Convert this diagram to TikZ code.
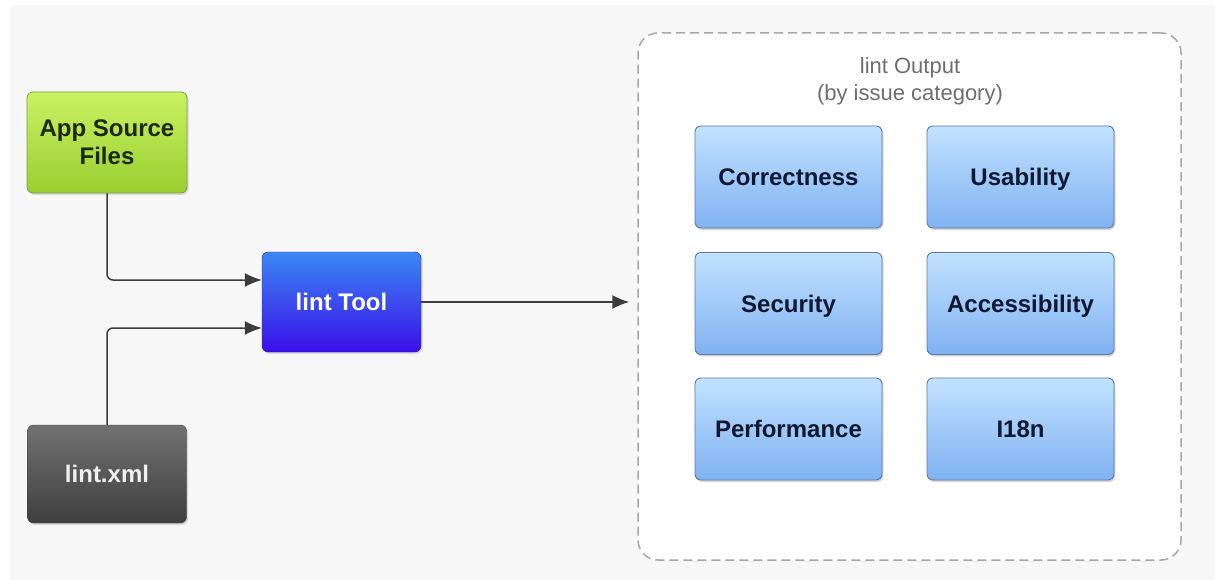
\documentclass[tikz,border=0pt]{standalone}
\usepackage{fontspec}
\setmainfont{Liberation Sans}
\usetikzlibrary{arrows.meta,shadows,calc}
\definecolor{bggray}{HTML}{F7F7F7}
\definecolor{srctop}{HTML}{CBF162}
\definecolor{srcbot}{HTML}{98CE30}
\definecolor{srcline}{HTML}{7E9E48}
\definecolor{srctext}{HTML}{1C2808}
\definecolor{tooltop}{HTML}{3C88F2}
\definecolor{toolbot}{HTML}{3A0FEA}
\definecolor{xmltop}{HTML}{727272}
\definecolor{xmlbot}{HTML}{3E3E3E}
\definecolor{cattop}{HTML}{C2E2FF}
\definecolor{catbot}{HTML}{80B2F2}
\definecolor{catline}{HTML}{5A7AAA}
\definecolor{cattext}{HTML}{0E1830}
\definecolor{dashgray}{HTML}{A6A6A6}
\definecolor{titlegray}{HTML}{6E6E6E}
\definecolor{connc}{HTML}{3C3C3C}
\tikzset{
  boxbase/.style={rounded corners=6pt, align=center, inner sep=0pt,
    font=\fontsize{24}{28}\selectfont\bfseries,
    drop shadow={opacity=0.25, shadow xshift=1.5pt, shadow yshift=-2pt}},
  oneline/.style={text height=17pt, text depth=0pt},
  srcbox/.style={boxbase, draw=srcline, line width=0.8pt, top color=srctop, bottom color=srcbot,
    text=srctext, minimum width=160pt, minimum height=101pt},
  toolbox/.style={boxbase, oneline, draw=toolbot!80!black, line width=0.4pt, top color=tooltop, bottom color=toolbot,
    text=white, minimum width=159pt, minimum height=100pt},
  xmlbox/.style={boxbase, oneline, draw=xmlbot, line width=0.4pt, top color=xmltop, bottom color=xmlbot,
    text=white!94!black, minimum width=159pt, minimum height=98pt},
  catbox/.style={boxbase, oneline, draw=catline, line width=0.9pt, top color=cattop, bottom color=catbot,
    text=cattext, minimum width=187pt, minimum height=102pt,
    drop shadow={opacity=0.12, shadow xshift=1pt, shadow yshift=-1.5pt}},
  outbox/.style={draw=dashgray, line width=1.5pt, dash pattern=on 9pt off 5pt,
    rounded corners=20pt, fill=white, minimum width=543pt, minimum height=527pt, inner sep=0pt},
  titletext/.style={align=center, text=titlegray, font=\fontsize{22}{27}\selectfont},
  conn/.style={draw=connc, line width=1.5pt, rounded corners=6pt,
    -{Latex[length=17pt,width=14pt]}}
}
\begin{document}
\begin{tikzpicture}[x=1pt,y=-1pt]
  \fill[white] (0,0) rectangle (1215,580);
  \fill[bggray] (10,5) rectangle (1215,580);
  \useasboundingbox (0,0) rectangle (1215,580);

  \node[outbox] (out) at (909.5,296.5) {};
  \node[titletext] (title) at (910,81.5) {lint Output\\(by issue category)};

  \node[srcbox] (src) at (107,142.5) {App Source\\Files};
  \node[toolbox] (tool) at (341.5,302) {lint Tool};
  \node[xmlbox] (xml) at (107,474) {lint.xml};

  \node[catbox] (corr) at (788.5,177) {Correctness};
  \node[catbox] (usab) at (1020.5,177) {Usability};
  \node[catbox] (secu) at (788.5,303.5) {Security};
  \node[catbox] (acce) at (1020.5,303.5) {Accessibility};
  \node[catbox] (perf) at (788.5,429) {Performance};
  \node[catbox] (i18n) at (1020.5,429) {I18n};

  \coordinate (inA) at ($(tool.west)+(0,-22)$);
  \coordinate (inB) at ($(tool.west)+(0,26)$);
  \draw[conn] (src.south) |- (inA);
  \draw[conn] (xml.north) |- (inB);
  \draw[conn, shorten >=8pt] (tool.east) -- (out.west |- tool.east);
\end{tikzpicture}
\end{document}
